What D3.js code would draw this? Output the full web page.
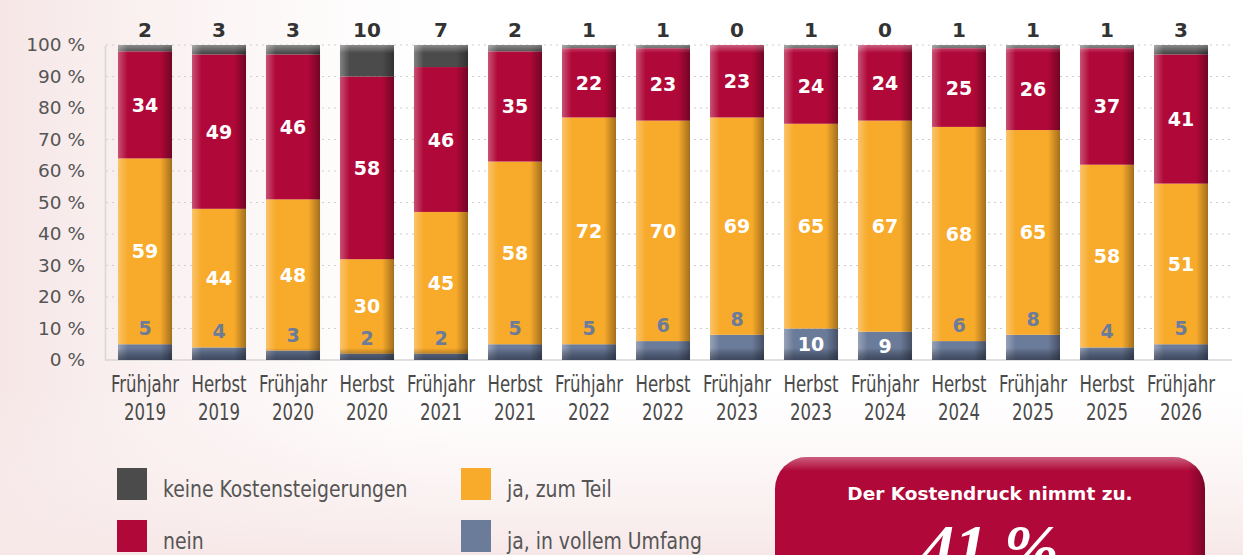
<!DOCTYPE html>
<html>
<head>
<meta charset="utf-8">
<script src="https://cdn.jsdelivr.net/npm/d3@7"></script>
<style>
  body { margin: 0; background: #fff; }
  svg { display: block; }
</style>
</head>
<body>
<div id="chart"></div>
<script>
// survey waves
var seasons = ["Frühjahr", "Herbst", "Frühjahr", "Herbst", "Frühjahr", "Herbst", "Frühjahr", "Herbst",
               "Frühjahr", "Herbst", "Frühjahr", "Herbst", "Frühjahr", "Herbst", "Frühjahr"];
var years = ["2019", "2019", "2020", "2020", "2021", "2021", "2022", "2022",
             "2023", "2023", "2024", "2024", "2025", "2025", "2026"];

// shares in %, stacked bottom -> top
var vollerUmfang = [5, 4, 3, 2, 2, 5, 5, 6, 8, 10, 9, 6, 8, 4, 5];
var zumTeil      = [59, 44, 48, 30, 45, 58, 72, 70, 69, 65, 67, 68, 65, 58, 51];
var nein         = [34, 49, 46, 58, 46, 35, 22, 23, 23, 24, 24, 25, 26, 37, 41];
var keine        = [2, 3, 3, 10, 7, 2, 1, 1, 0, 1, 0, 1, 1, 1, 3];

var yTicks = [0, 10, 20, 30, 40, 50, 60, 70, 80, 90, 100];

var seriesNames = ["ja, in vollem Umfang", "ja, zum Teil", "nein", "keine Kostensteigerungen"];
var seriesColors = ["#6b7b9a", "#f8aa2b", "#b00838", "#4b4b4b"];

var W = 1243, H = 555;
var narrow = "'DejaVu Sans Condensed', 'DejaVu Sans', sans-serif";
var svg = d3.select("#chart").append("svg")
    .attr("width", W).attr("height", H);

var defs = svg.append("defs");

// background tint
var bgH = defs.append("linearGradient").attr("id", "bgH").attr("x1", 0).attr("x2", 1).attr("y1", 0).attr("y2", 0);
bgH.append("stop").attr("offset", "0%").attr("stop-color", "#f6e6e6").attr("stop-opacity", 1);
bgH.append("stop").attr("offset", "22%").attr("stop-color", "#fbf3f3").attr("stop-opacity", 0.6);
bgH.append("stop").attr("offset", "40%").attr("stop-color", "#ffffff").attr("stop-opacity", 0);
var bgV = defs.append("linearGradient").attr("id", "bgV").attr("x1", 0).attr("x2", 0).attr("y1", 0).attr("y2", 1);
bgV.append("stop").attr("offset", "70%").attr("stop-color", "#fbf1f1").attr("stop-opacity", 0);
bgV.append("stop").attr("offset", "100%").attr("stop-color", "#f7e8e8").attr("stop-opacity", 1);

svg.append("rect").attr("width", W).attr("height", H).attr("fill", "#fff");
svg.append("rect").attr("width", W).attr("height", H).attr("fill", "url(#bgH)");
svg.append("rect").attr("width", W).attr("height", H).attr("fill", "url(#bgV)");

// bar shading
var shadeH = defs.append("linearGradient").attr("id", "shadeH").attr("x1", 0).attr("x2", 1).attr("y1", 0).attr("y2", 0);
shadeH.append("stop").attr("offset", "0%").attr("stop-color", "#fff").attr("stop-opacity", 0.3);
shadeH.append("stop").attr("offset", "18%").attr("stop-color", "#fff").attr("stop-opacity", 0);
shadeH.append("stop").attr("offset", "78%").attr("stop-color", "#000").attr("stop-opacity", 0);
shadeH.append("stop").attr("offset", "100%").attr("stop-color", "#000").attr("stop-opacity", 0.35);
var shadeTop = defs.append("linearGradient").attr("id", "shadeTop").attr("x1", 0).attr("x2", 0).attr("y1", 0).attr("y2", 1);
shadeTop.append("stop").attr("offset", "0%").attr("stop-color", "#fff").attr("stop-opacity", 0.35);
shadeTop.append("stop").attr("offset", "100%").attr("stop-color", "#fff").attr("stop-opacity", 0);
var shadeBot = defs.append("linearGradient").attr("id", "shadeBot").attr("x1", 0).attr("x2", 0).attr("y1", 0).attr("y2", 1);
shadeBot.append("stop").attr("offset", "0%").attr("stop-color", "#000").attr("stop-opacity", 0);
shadeBot.append("stop").attr("offset", "100%").attr("stop-color", "#1a2030").attr("stop-opacity", 0.55);

var x = d3.scaleBand()
    .domain(d3.range(years.length))
    .range([108, 1218])
    .paddingInner(0.27)
    .paddingOuter(0.135);

var y = d3.scaleLinear().domain([0, 100]).range([360, 45]);

// grid
svg.append("g").selectAll("line").data(yTicks.filter(function(d) { return d > 0; }))
    .join("line")
    .attr("x1", 106).attr("x2", 1232)
    .attr("y1", function(d) { return y(d); }).attr("y2", function(d) { return y(d); })
    .attr("stroke", "#cfcfcf").attr("stroke-width", 1).attr("stroke-dasharray", "2,4");

// y axis
var yAxis = svg.append("g")
    .attr("transform", "translate(105,0)")
    .call(d3.axisLeft(y).tickValues(yTicks).tickSize(0).tickPadding(20)
        .tickFormat(function(d) { return d + " %"; }));
yAxis.select(".domain").attr("stroke", "#d6d6d6").attr("stroke-width", 1.5);
yAxis.selectAll("text")
    .attr("font-family", "'DejaVu Sans', sans-serif")
    .attr("font-size", 18.5)
    .attr("fill", "#555");
svg.append("line").attr("x1", 105).attr("x2", 1232).attr("y1", y(0)).attr("y2", y(0))
    .attr("stroke", "#d6d6d6").attr("stroke-width", 1.5);

// stack
var rows = years.map(function(yr, i) {
    return { i: i, s0: vollerUmfang[i], s1: zumTeil[i], s2: nein[i], s3: keine[i] };
});
var stack = d3.stack().keys(["s0", "s1", "s2", "s3"])(rows);

var bars = svg.append("g");
stack.forEach(function(layer, k) {
    bars.append("g").attr("fill", seriesColors[k])
        .selectAll("rect").data(layer).join("rect")
        .attr("x", function(d, i) { return x(i); })
        .attr("width", x.bandwidth())
        .attr("y", function(d) { return y(d[1]); })
        .attr("height", function(d) { return y(d[0]) - y(d[1]); });
});

// shading overlays
var ov = svg.append("g");
ov.selectAll("rect.h").data(rows).join("rect").attr("class", "h")
    .attr("x", function(d) { return x(d.i); }).attr("width", x.bandwidth())
    .attr("y", y(100)).attr("height", y(0) - y(100)).attr("fill", "url(#shadeH)");
ov.selectAll("rect.t").data(rows).join("rect").attr("class", "t")
    .attr("x", function(d) { return x(d.i); }).attr("width", x.bandwidth())
    .attr("y", y(100)).attr("height", 8).attr("fill", "url(#shadeTop)");
ov.selectAll("rect.b").data(rows).join("rect").attr("class", "b")
    .attr("x", function(d) { return x(d.i); }).attr("width", x.bandwidth())
    .attr("y", y(0) - 12).attr("height", 12).attr("fill", "url(#shadeBot)");

// value labels
var lab = svg.append("g")
    .attr("font-family", "'DejaVu Sans', sans-serif")
    .attr("font-weight", "bold")
    .attr("font-size", 19)
    .attr("text-anchor", "middle");

function cx(i) { return x(i) + x.bandwidth() / 2; }

// voll: inside when tall enough, else just above
lab.selectAll("text.v").data(stack[0]).join("text").attr("class", "v")
    .attr("x", function(d, i) { return cx(i); })
    .attr("y", function(d, i) {
        var v = vollerUmfang[i];
        return v >= 9 ? (y(d[0]) + y(d[1])) / 2 + 7 : y(d[1]) - 9;
    })
    .attr("fill", function(d, i) { return vollerUmfang[i] >= 9 ? "#fff" : "#6b7b9a"; })
    .text(function(d, i) { return vollerUmfang[i]; });

[1, 2].forEach(function(k) {
    var vals = k === 1 ? zumTeil : nein;
    lab.selectAll("text.m" + k).data(stack[k]).join("text").attr("class", "m" + k)
        .attr("x", function(d, i) { return cx(i); })
        .attr("y", function(d) { return (y(d[0]) + y(d[1])) / 2 + 7; })
        .attr("fill", "#fff")
        .text(function(d, i) { return vals[i]; });
});

lab.selectAll("text.k").data(keine).join("text").attr("class", "k")
    .attr("x", function(d, i) { return cx(i); })
    .attr("y", 37)
    .attr("font-size", 20)
    .attr("fill", "#333")
    .text(function(d) { return d; });

// x labels (condensed look via horizontal squeeze)
var xl = svg.append("g")
    .attr("font-family", narrow)
    .attr("font-size", 23)
    .attr("fill", "#4a4a4a")
    .attr("text-anchor", "middle");
xl.selectAll("text.s").data(seasons).join("text").attr("class", "s")
    .attr("transform", function(d, i) { return "translate(" + cx(i) + ",392) scale(0.8,1)"; })
    .text(function(d) { return d; });
xl.selectAll("text.y").data(years).join("text").attr("class", "y")
    .attr("transform", function(d, i) { return "translate(" + cx(i) + ",420) scale(0.8,1)"; })
    .text(function(d) { return d; });

// legend
var legendItems = [
    { name: seriesNames[3], color: seriesColors[3], x: 117, y: 468 },
    { name: seriesNames[1], color: seriesColors[1], x: 461, y: 468 },
    { name: seriesNames[2], color: seriesColors[2], x: 117, y: 520 },
    { name: seriesNames[0], color: seriesColors[0], x: 461, y: 520 }
];
var lg = svg.append("g").selectAll("g").data(legendItems).join("g")
    .attr("transform", function(d) { return "translate(" + d.x + "," + d.y + ")"; });
lg.append("rect").attr("width", 30).attr("height", 32).attr("fill", function(d) { return d.color; });
lg.append("text").attr("transform", "translate(46,28.5) scale(0.93,1)")
    .attr("font-family", narrow)
    .attr("font-size", 22.5).attr("fill", "#555")
    .text(function(d) { return d.name; });

// callout
var boxG = defs.append("linearGradient").attr("id", "boxG").attr("x1", 0).attr("x2", 0).attr("y1", 0).attr("y2", 1);
boxG.append("stop").attr("offset", "0%").attr("stop-color", "#fff").attr("stop-opacity", 0.35);
boxG.append("stop").attr("offset", "10%").attr("stop-color", "#fff").attr("stop-opacity", 0);
var boxR = defs.append("linearGradient").attr("id", "boxR").attr("x1", 0).attr("x2", 1).attr("y1", 0).attr("y2", 0);
boxR.append("stop").attr("offset", "96%").attr("stop-color", "#000").attr("stop-opacity", 0);
boxR.append("stop").attr("offset", "100%").attr("stop-color", "#000").attr("stop-opacity", 0.3);

var box = svg.append("g");
box.append("rect").attr("x", 775).attr("y", 457).attr("width", 430).attr("height", 140).attr("rx", 32)
    .attr("fill", "#b00838");
box.append("rect").attr("x", 775).attr("y", 457).attr("width", 430).attr("height", 140).attr("rx", 32)
    .attr("fill", "url(#boxG)");
box.append("rect").attr("x", 775).attr("y", 457).attr("width", 430).attr("height", 140).attr("rx", 32)
    .attr("fill", "url(#boxR)");
box.append("text").attr("x", 990).attr("y", 500).attr("text-anchor", "middle")
    .attr("font-family", "'DejaVu Sans', sans-serif").attr("font-weight", "bold")
    .attr("font-size", 18.5).attr("fill", "#fff")
    .text("Der Kostendruck nimmt zu.");
// the big figure runs off the bottom edge in the original as well
box.append("text").attr("x", 990).attr("y", 570).attr("text-anchor", "middle")
    .attr("font-family", "'Liberation Serif', serif").attr("font-style", "italic")
    .attr("font-weight", "bold")
    .attr("font-size", 66).attr("fill", "#fff")
    .text(nein[nein.length - 1] + " %");
</script>
</body>
</html>
